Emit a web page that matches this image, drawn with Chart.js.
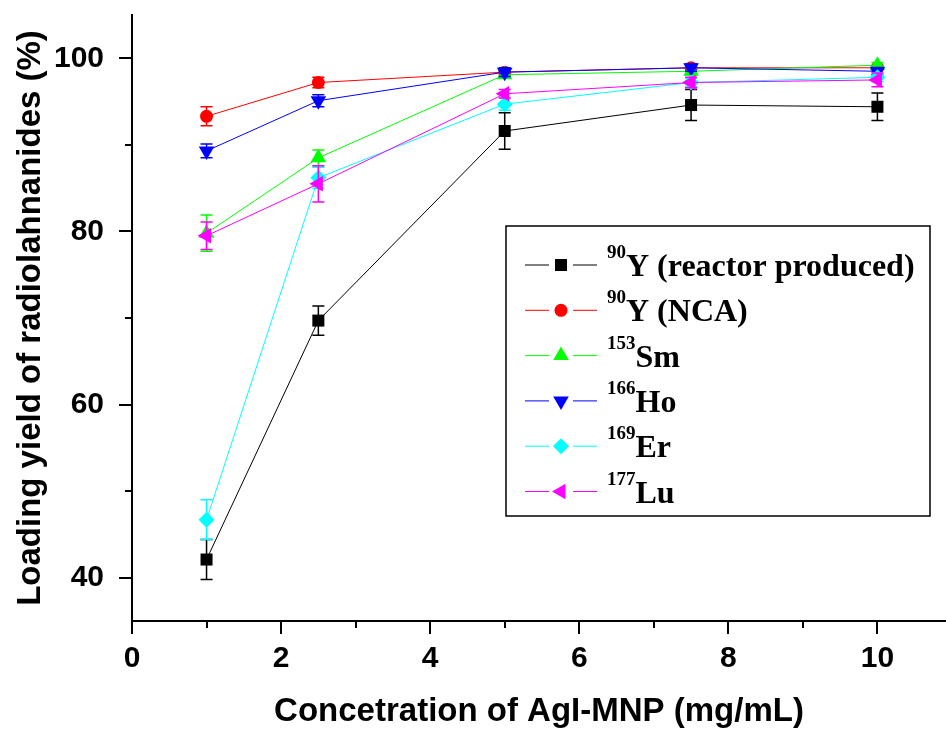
<!DOCTYPE html>
<html>
<head>
<meta charset="utf-8">
<script src="https://cdn.jsdelivr.net/npm/chart.js@4.4.1/dist/chart.umd.min.js"></script>
<style>
    html, body { margin: 0; padding: 0; background: #fff; overflow: hidden; }
</style>
</head>
<body>
<canvas id="yieldChart" width="946" height="730"></canvas>
<script>
// x values (mg/mL)
const concentration = [1, 2.5, 5, 7.5, 10];

// legend text: mass number (superscript) + name
const massNumbers = ['90', '90', '153', '166', '169', '177'];
const seriesNames = ['Y (reactor produced)', 'Y (NCA)', 'Sm', 'Ho', 'Er', 'Lu'];

// loading yield (%)
const y90Reactor = [42.1, 69.7, 91.6, 94.6, 94.4];
const y90NCA     = [93.3, 97.2, 98.4, 98.9, 98.9];
const sm153      = [79.8, 88.5, 98.1, 98.5, 99.2];
const ho166      = [89.3, 95.1, 98.4, 98.9, 98.5];
const er169      = [46.7, 86.2, 94.7, 97.2, 97.8];
const lu177      = [79.5, 85.5, 95.9, 97.2, 97.5];

// error bars (+/-)
const y90ReactorErr = [2.3, 1.7, 2.1, 1.8, 1.6];
const y90NCAErr     = [1.1, 0.6, 0.4, 0.4, 0.3];
const sm153Err      = [2.1, 0.9, 0.4, 0.4, 0.3];
const ho166Err      = [0.8, 0.7, 0.5, 0.4, 0.4];
const er169Err      = [2.3, 1.2, 0.7, 0.5, 0.5];
const lu177Err      = [1.6, 2.1, 0.5, 0.6, 0.8];

// axis ticks
const xMajorTicks = [0, 2, 4, 6, 8, 10];
const xMinorTicks = [1, 3, 5, 7, 9];
const yMajorTicks = [40, 60, 80, 100];
const yMinorTicks = [50, 70, 90];

const seriesValues = [y90Reactor, y90NCA, sm153, ho166, er169, lu177];
const seriesErrors = [y90ReactorErr, y90NCAErr, sm153Err, ho166Err, er169Err, lu177Err];

// styles
const seriesColors = ['#000000', '#ff0000', '#00ff00', '#0000ff', '#00ffff', '#ff00ff'];
const markerStyles = ['rect', 'circle', 'triangle', 'triangle', 'rectRot', 'triangle'];
const markerRotation = [0, 0, 0, 180, 0, 270];
const markerRadius = [8.5, 6.5, 9, 9, 8, 9];

const SANS = 'Arial, "Liberation Sans", sans-serif';
const SERIF = '"Times New Roman", "Liberation Serif", serif';

// error bars under each series' markers
const errorBars = {
    id: 'errorBars',
    beforeDatasetDraw(chart, args) {
        const i = args.index;
        const { ctx, scales: { x, y } } = chart;
        ctx.save();
        ctx.strokeStyle = seriesColors[i];
        ctx.lineWidth = 1.5;
        ctx.beginPath();
        seriesErrors[i].forEach((e, k) => {
            const px = x.getPixelForValue(concentration[k]);
            const top = y.getPixelForValue(seriesValues[i][k] + e);
            const bot = y.getPixelForValue(seriesValues[i][k] - e);
            ctx.moveTo(px, top); ctx.lineTo(px, bot);
            ctx.moveTo(px - 6, top); ctx.lineTo(px + 6, top);
            ctx.moveTo(px - 6, bot); ctx.lineTo(px + 6, bot);
        });
        ctx.stroke();
        ctx.restore();
    }
};

// outward tick marks (major long, minor short)
const tickMarks = {
    id: 'tickMarks',
    afterDraw(chart) {
        const { ctx, scales: { x, y }, chartArea } = chart;
        ctx.save();
        ctx.strokeStyle = '#000';
        ctx.lineWidth = 2;
        ctx.beginPath();
        const xt = (v, len) => {
            const px = Math.round(x.getPixelForValue(v));
            ctx.moveTo(px, chartArea.bottom); ctx.lineTo(px, chartArea.bottom + len);
        };
        const yt = (v, len) => {
            const py = Math.round(y.getPixelForValue(v));
            ctx.moveTo(chartArea.left, py); ctx.lineTo(chartArea.left - len, py);
        };
        xMajorTicks.forEach(v => xt(v, 13));
        xMinorTicks.forEach(v => xt(v, 7));
        yMajorTicks.forEach(v => yt(v, 13));
        yMinorTicks.forEach(v => yt(v, 7));
        ctx.stroke();
        ctx.restore();
    }
};

// boxed legend with superscript mass numbers
const isotopeLegend = {
    id: 'isotopeLegend',
    afterDraw(chart) {
        const ctx = chart.ctx;
        const box = { left: 506, top: 226, right: 930, bottom: 516 };
        ctx.save();
        ctx.strokeStyle = '#000';
        ctx.lineWidth = 1.5;
        ctx.strokeRect(box.left, box.top, box.right - box.left, box.bottom - box.top);

        seriesNames.forEach((name, i) => {
            const cy = 265 + i * 45.3;
            ctx.strokeStyle = seriesColors[i];
            ctx.lineWidth = 1;
            ctx.beginPath();
            ctx.moveTo(525, cy); ctx.lineTo(549, cy);
            ctx.moveTo(573, cy); ctx.lineTo(597, cy);
            ctx.stroke();

            ctx.fillStyle = seriesColors[i];
            Chart.helpers.drawPoint(ctx, {
                pointStyle: markerStyles[i],
                radius: markerRadius[i],
                rotation: markerRotation[i],
                borderWidth: 0
            }, 561, cy);

            ctx.fillStyle = '#000';
            ctx.textBaseline = 'alphabetic';
            ctx.textAlign = 'left';
            ctx.font = 'bold 19px ' + SERIF;
            ctx.fillText(massNumbers[i], 607, cy - 7);
            const supW = ctx.measureText(massNumbers[i]).width;
            ctx.font = 'bold 32px ' + SERIF;
            ctx.fillText(name, 607 + supW, cy + 11);
        });
        ctx.restore();
    }
};

const datasets = seriesValues.map((vals, i) => ({
    label: massNumbers[i] + seriesNames[i],
    data: vals.map((v, k) => ({ x: concentration[k], y: v })),
    borderColor: seriesColors[i],
    backgroundColor: seriesColors[i],
    borderWidth: 1,
    pointStyle: markerStyles[i],
    pointRotation: markerRotation[i],
    pointRadius: markerRadius[i],
    pointBorderWidth: 0,
    order: seriesValues.length - i
}));

new Chart(document.getElementById('yieldChart'), {
    type: 'line',
    data: { datasets },
    plugins: [errorBars, tickMarks, isotopeLegend],
    options: {
        responsive: false,
        animation: false,
        devicePixelRatio: 1,
        layout: { autoPadding: false, padding: { top: 15, left: 0, right: 0, bottom: 0 } },
        plugins: { legend: { display: false }, tooltip: { enabled: false } },
        scales: {
            x: {
                type: 'linear',
                min: 0,
                max: 10.92,
                afterBuildTicks: s => { s.ticks = xMajorTicks.map(v => ({ value: v })); },
                afterFit: s => { s.height = 109; s.paddingLeft = 0; s.paddingRight = 0; },
                grid: { display: false },
                border: { display: true, color: '#000', width: 2 },
                ticks: {
                    color: '#000',
                    padding: 12,
                    maxRotation: 0,
                    autoSkip: false,
                    font: { family: SANS, size: 30, weight: 'bold' }
                },
                title: {
                    display: true,
                    text: 'Concetration of AgI-MNP (mg/mL)',
                    color: '#000',
                    padding: { top: 0, bottom: 0 },
                    font: { family: SANS, size: 33, weight: 'bold', lineHeight: 1.1 }
                }
            },
            y: {
                min: 35,
                max: 105,
                afterBuildTicks: s => { s.ticks = yMajorTicks.map(v => ({ value: v })); },
                afterFit: s => { s.width = 132; s.paddingTop = 0; s.paddingBottom = 0; },
                grid: { display: false },
                border: { display: true, color: '#000', width: 2 },
                ticks: {
                    color: '#000',
                    padding: 20,
                    font: { family: SANS, size: 30, weight: 'bold' }
                },
                title: {
                    display: true,
                    text: 'Loading yield of radiolahnanides (%)',
                    color: '#000',
                    padding: { top: 11, bottom: 0 },
                    font: { family: SANS, size: 33, weight: 'bold', lineHeight: 1.2 }
                }
            }
        }
    }
});
</script>
</body>
</html>
